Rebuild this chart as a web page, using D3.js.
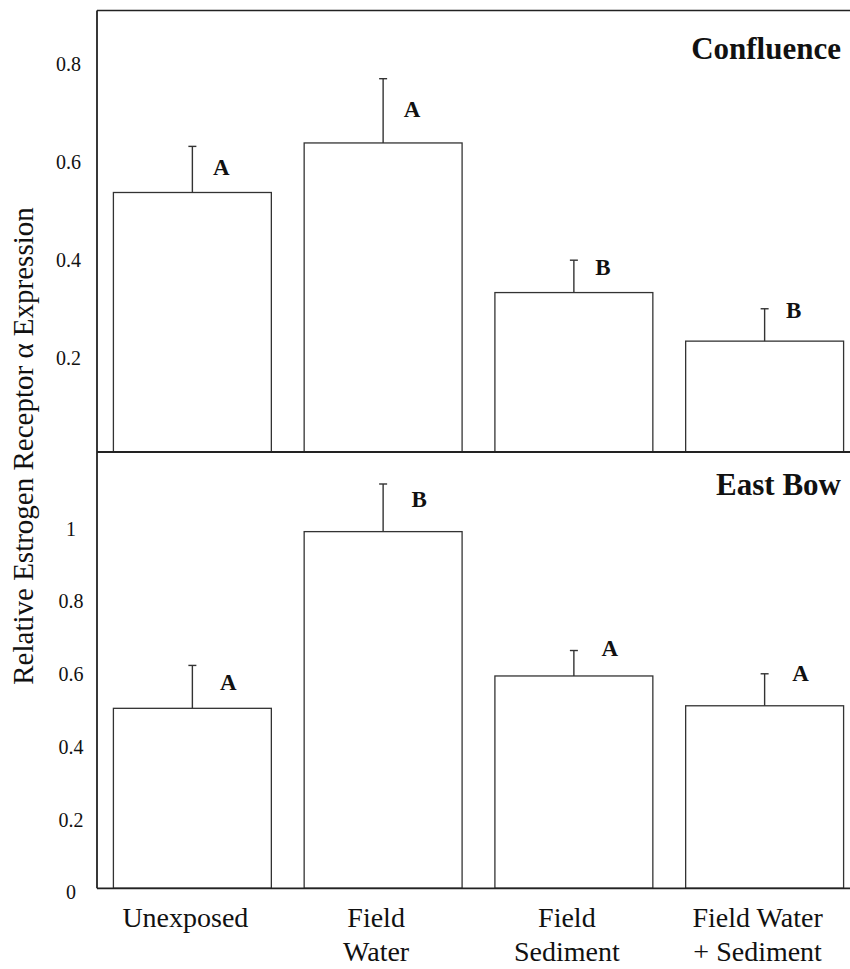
<!DOCTYPE html>
<html><head><meta charset="utf-8">
<script src="https://cdn.jsdelivr.net/npm/d3@7"></script>
</head><body style="margin:0;padding:0;background:#fff">
<svg id="c" width="850" height="969"></svg>
<script>
const categories = ["Unexposed", "Field Water", "Field Sediment", "Field Water + Sediment"];
const categoryLines = [["Unexposed"], ["Field", "Water"], ["Field", "Sediment"], ["Field Water", "+ Sediment"]];
const confluenceMean = [0.529, 0.630, 0.325, 0.226];
const confluenceErr  = [0.094, 0.131, 0.066, 0.066];
const confluenceLetters = ["A", "A", "B", "B"];
const confluenceLetterAt = [0.582, 0.699, 0.378, 0.290];
const eastBowMean = [0.495, 0.981, 0.584, 0.502];
const eastBowErr  = [0.118, 0.131, 0.070, 0.088];
const eastBowLetters = ["A", "B", "A", "A"];
const eastBowLetterAt = [0.568, 1.070, 0.660, 0.593];
const confluenceTicks = [0.2, 0.4, 0.6, 0.8];
const eastBowTicks = [0, 0.2, 0.4, 0.6, 0.8, 1];

const FONT = '"Liberation Serif"';
const svg = d3.select("#c").style("font-family", FONT);
const lineCol = "#333";

const x = d3.scaleBand().domain(categories).range([97, 860]).paddingInner(0.172).paddingOuter(0.086);

const panels = [
  {title: "Confluence", mean: confluenceMean, err: confluenceErr, letters: confluenceLetters, letterAt: confluenceLetterAt,
   ticks: confluenceTicks, y: d3.scaleLinear().domain([0, 0.9]).range([452, 10.5]), titleY: 59, tickX: 68.5, letterDx: 29},
  {title: "East Bow", mean: eastBowMean, err: eastBowErr, letters: eastBowLetters, letterAt: eastBowLetterAt,
   ticks: eastBowTicks, y: d3.scaleLinear().domain([0, 1.2]).range([888.3, 452]), titleY: 495, tickX: 71, letterDx: 36}
];

panels.forEach(p => {
  const g = svg.append("g");
  const ax = d3.axisLeft(p.y).tickValues(p.ticks).tickSize(0).tickFormat(d => String(d));
  const axg = g.append("g").attr("transform", `translate(${p.tickX},0)`).call(ax);
  axg.attr("font-family", null).attr("font-size", null);
  axg.select(".domain").remove();
  axg.selectAll("text").style("font-family", FONT).style("font-size", "20px").attr("fill", "#111")
     .attr("text-anchor", "middle").attr("x", 0).attr("dy", "0.35em").attr("transform", "translate(0,3.5)");

  g.selectAll("rect.bar").data(categories).join("rect")
    .attr("x", d => x(d)).attr("width", x.bandwidth())
    .attr("y", (d, i) => p.y(p.mean[i])).attr("height", (d, i) => p.y(0) - p.y(p.mean[i]))
    .attr("fill", "#fff").attr("stroke", lineCol).attr("stroke-width", 1.3);

  categories.forEach((d, i) => {
    const cx = x(d) + x.bandwidth() / 2;
    const y0 = p.y(p.mean[i]), y1 = p.y(p.mean[i] + p.err[i]);
    g.append("line").attr("x1", cx).attr("x2", cx).attr("y1", y0).attr("y2", y1).attr("stroke", lineCol).attr("stroke-width", 1.4);
    g.append("line").attr("x1", cx - 4).attr("x2", cx + 4).attr("y1", y1).attr("y2", y1).attr("stroke", lineCol).attr("stroke-width", 1.4);
    g.append("text").attr("x", cx + p.letterDx).attr("y", p.y(p.letterAt[i])).attr("dy", "0.35em")
      .attr("text-anchor", "middle").style("font-family", FONT).style("font-weight", "bold").style("font-size", "23px")
      .attr("fill", "#111").text(p.letters[i]);
  });

  g.append("text").attr("x", 841).attr("y", p.titleY).attr("text-anchor", "end")
    .style("font-family", FONT).style("font-weight", "bold").style("font-size", "31px").attr("fill", "#111").text(p.title);
});

const topY = panels[0].y, botY = panels[1].y;
const frame = svg.append("g").attr("stroke", "#222").attr("stroke-width", 1.8);
frame.append("line").attr("x1", 97).attr("x2", 850).attr("y1", topY(0.9)).attr("y2", topY(0.9)).attr("stroke-width", 1.3);
frame.append("line").attr("x1", 97).attr("x2", 850).attr("y1", topY(0)).attr("y2", topY(0));
frame.append("line").attr("x1", 97).attr("x2", 850).attr("y1", botY(0)).attr("y2", botY(0));
frame.append("line").attr("x1", 97).attr("x2", 97).attr("y1", topY(0.9)).attr("y2", botY(0));

categories.forEach((d, i) => {
  const cx = x(d) + x.bandwidth() / 2 - 7;
  const t = svg.append("text").attr("text-anchor", "middle").style("font-family", FONT).style("font-size", "28px").attr("fill", "#111");
  categoryLines[i].forEach((ln, j) => {
    t.append("tspan").attr("x", cx).attr("y", 927 + j * 34).text(ln);
  });
});

svg.append("text").attr("transform", "translate(33,446) rotate(-90)").attr("text-anchor", "middle")
  .style("font-family", FONT).style("font-size", "29px").attr("fill", "#111")
  .text("Relative Estrogen Receptor α Expression");
</script>
</body></html>
